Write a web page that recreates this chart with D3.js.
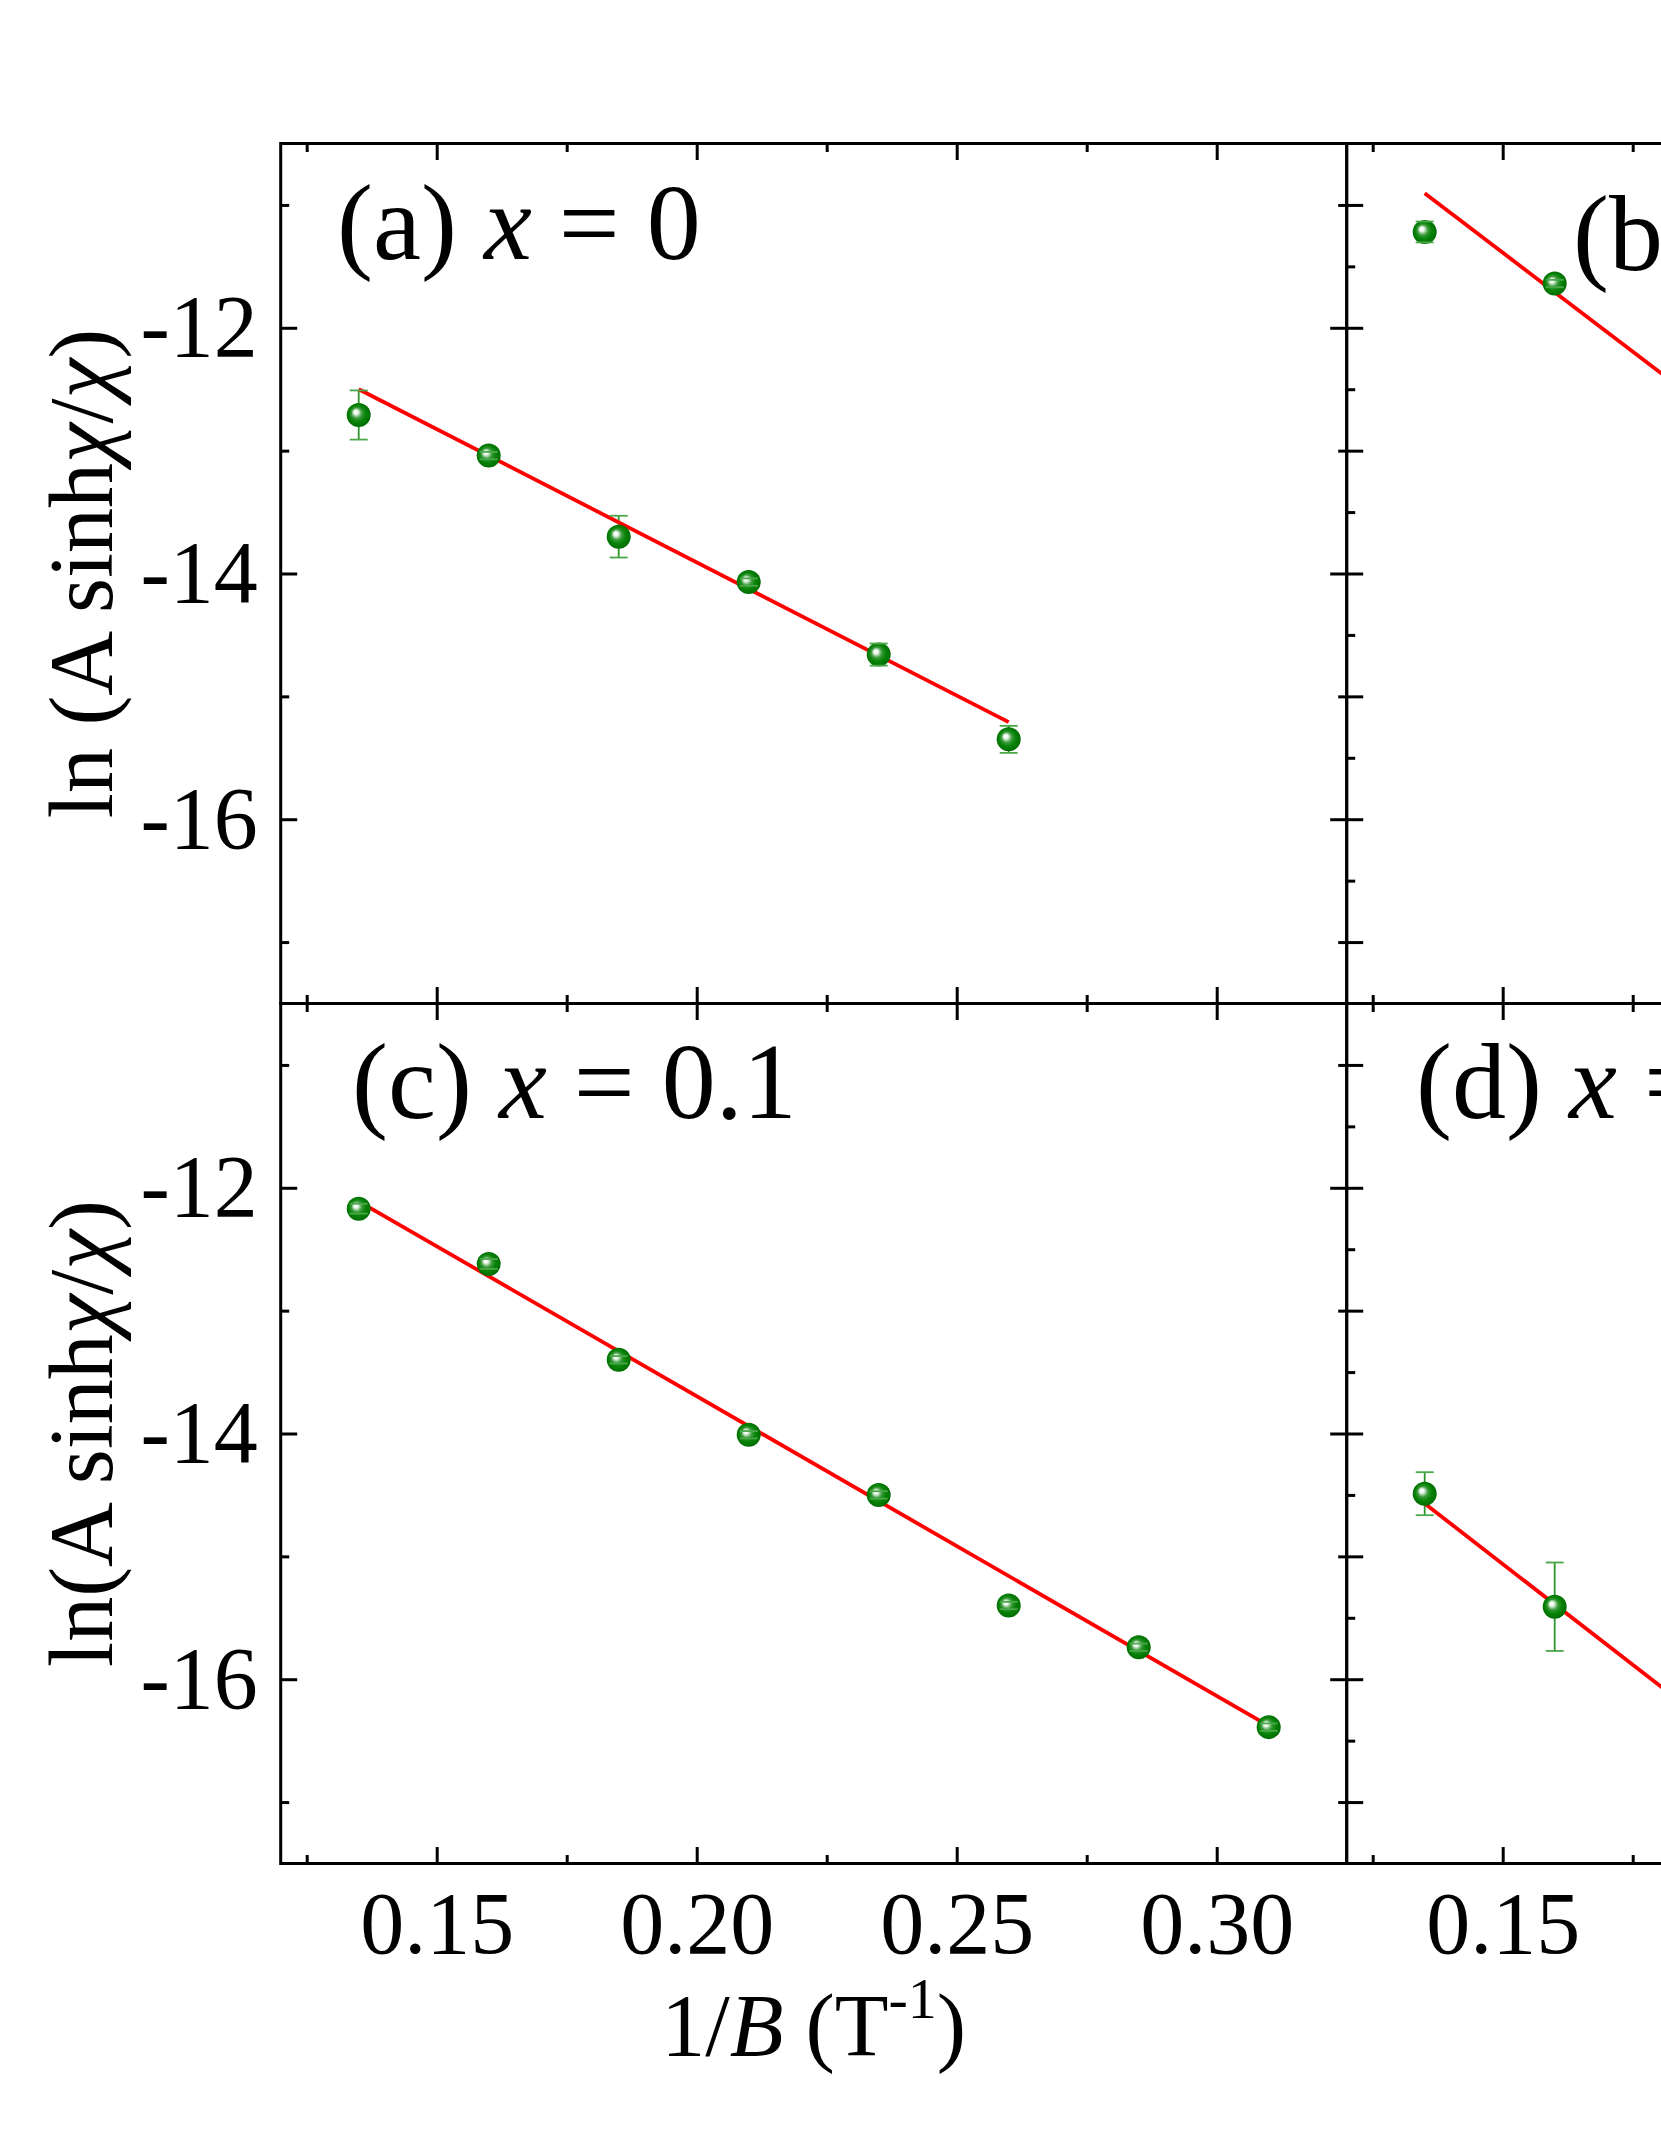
<!DOCTYPE html>
<html>
<head>
<meta charset="utf-8">
<script src="https://cdnjs.cloudflare.com/ajax/libs/d3/7.8.5/d3.min.js"></script>
<style>
  body { margin: 0; background: #fff; }
  svg { display: block; }
  text { font-family: "Liberation Serif", "Times New Roman", serif; fill: #000; }
</style>
</head>
<body>
<div id="chart"></div>
<script>
// shared axes
var xDomain = [0.12, 0.325];
var yDomain = [-17.5, -10.5];
var xMajor = [0.15, 0.20, 0.25, 0.30];
var xMinor = [0.125, 0.175, 0.225, 0.275];
var yMajorLeft = [-12, -14, -16];
var yMinorLeft = [-11, -13, -15, -17];
var yMajorRight = [-11, -12, -13, -14, -15, -16, -17];
var yMinorRight = [-11.5, -12.5, -13.5, -14.5, -15.5, -16.5];

// (a) x = 0
var xA = [0.135, 0.16, 0.185, 0.21, 0.235, 0.26];
var yA = [-12.71, -13.04, -13.70, -14.07, -14.66, -15.35];
var errA = [0.20, 0.03, 0.17, 0.03, 0.09, 0.11];
var fitA = [[0.135, -12.50], [0.26, -15.21]];

// (b) only the visible part of the panel
var xB = [0.135, 0.16];
var yB = [-11.22, -11.64];
var errB = [0.085, 0.03];
var fitB = [[0.135, -10.905], [0.185, -12.515]];

// (c) x = 0.1
var xC = [0.135, 0.16, 0.185, 0.21, 0.235, 0.26, 0.285, 0.31];
var yC = [-12.17, -12.62, -13.40, -14.01, -14.50, -15.40, -15.74, -16.39];
var errC = [0.04, 0.04, 0.03, 0.03, 0.03, 0.03, 0.03, 0.03];
var fitC = [[0.135, -12.11], [0.31, -16.38]];

// (d) only the visible part of the panel
var xD = [0.135, 0.16];
var yD = [-14.49, -15.41];
var errD = [0.175, 0.36];
var fitD = [[0.135, -14.57], [0.185, -16.21]];

var panels = [
  {name: "(a) ", comp: " = 0",    col: 0, row: 0, xs: xA, ys: yA, err: errA, fit: fitA},
  {name: "(b) ", comp: " = 0.05", col: 1, row: 0, xs: xB, ys: yB, err: errB, fit: fitB},
  {name: "(c) ", comp: " = 0.1",  col: 0, row: 1, xs: xC, ys: yC, err: errC, fit: fitC},
  {name: "(d) ", comp: " = 0.15", col: 1, row: 1, xs: xD, ys: yD, err: errD, fit: fitD}
];
var yTitles = ["ln (A sinh", "ln(A sinh"];

// layout
var W = 1661, H = 2149;
var colLeft = [280.7, 1346.7];
var rowTop = [143.5, 1003.5];
var pw = 1066, ph = 860;
var labelPos = [[337, 259], [1573, 270], [352, 1118], [1416, 1118]];

var svg = d3.select("#chart").append("svg")
    .attr("width", W)
    .attr("height", H);

svg.append("rect").attr("width", W).attr("height", H).attr("fill", "#fff");

var defs = svg.append("defs");
var grad = defs.append("radialGradient")
    .attr("id", "ball")
    .attr("cx", "50%").attr("cy", "50%").attr("r", "55%")
    .attr("fx", "36%").attr("fy", "36%");
[["0%", "#ffffff"], ["16%", "#eef7ee"], ["40%", "#3a9a3a"], ["62%", "#088408"], ["100%", "#006600"]]
  .forEach(function(s) {
    grad.append("stop").attr("offset", s[0]).attr("stop-color", s[1]);
  });

// hyphen instead of unicode minus, like the original
var plainFmt = function(d) { return String(d); };

panels.forEach(function(p, i) {
  var g = svg.append("g")
      .attr("transform", "translate(" + colLeft[p.col] + "," + rowTop[p.row] + ")");

  var x = d3.scaleLinear().domain(xDomain).range([0, pw]);
  var y = d3.scaleLinear().domain(yDomain).range([ph, 0]);

  var majL = p.col == 0 ? yMajorLeft : yMajorRight;
  var minL = p.col == 0 ? yMinorLeft : yMinorRight;

  // bottom
  g.append("g").attr("class", "axis").attr("transform", "translate(0," + ph + ")")
    .call(d3.axisBottom(x).tickValues(xMajor).tickSize(-16.5).tickSizeOuter(0).tickPadding(27)
      .tickFormat(p.row == 1 ? d3.format(".2f") : ""));
  g.append("g").attr("class", "axis").attr("transform", "translate(0," + ph + ")")
    .call(d3.axisBottom(x).tickValues(xMinor).tickSize(-8.5).tickSizeOuter(0).tickFormat(""));
  // top
  g.append("g").attr("class", "axis")
    .call(d3.axisTop(x).tickValues(xMajor).tickSize(-16.5).tickSizeOuter(0).tickFormat(""));
  g.append("g").attr("class", "axis")
    .call(d3.axisTop(x).tickValues(xMinor).tickSize(-8.5).tickSizeOuter(0).tickFormat(""));
  // left
  g.append("g").attr("class", "axis")
    .call(d3.axisLeft(y).tickValues(majL).tickSize(-16.5).tickSizeOuter(0).tickPadding(23)
      .tickFormat(p.col == 0 ? plainFmt : ""));
  g.append("g").attr("class", "axis")
    .call(d3.axisLeft(y).tickValues(minL).tickSize(-8.5).tickSizeOuter(0).tickFormat(""));
  // right
  g.append("g").attr("class", "axis").attr("transform", "translate(" + pw + ",0)")
    .call(d3.axisRight(y).tickValues(majL).tickSize(-16.5).tickSizeOuter(0).tickFormat(""));
  g.append("g").attr("class", "axis").attr("transform", "translate(" + pw + ",0)")
    .call(d3.axisRight(y).tickValues(minL).tickSize(-8.5).tickSizeOuter(0).tickFormat(""));

  g.selectAll(".axis .domain").remove();
  g.selectAll(".axis line").attr("stroke", "#000").attr("stroke-width", 3);
  g.selectAll(".axis text")
    .style("font-family", "'Liberation Serif', serif")
    .style("font-size", "88px")
    .attr("fill", "#000");

  g.append("rect")
    .attr("width", pw).attr("height", ph)
    .attr("fill", "none").attr("stroke", "#000").attr("stroke-width", 3);

  var pts = p.xs.map(function(v, k) { return {x: v, y: p.ys[k], e: p.err[k]}; });

  // error bars
  g.selectAll(".eb").data(pts).enter().append("line")
    .attr("x1", function(d) { return x(d.x); })
    .attr("x2", function(d) { return x(d.x); })
    .attr("y1", function(d) { return y(d.y - d.e); })
    .attr("y2", function(d) { return y(d.y + d.e); })
    .attr("stroke", "#2f952f").attr("stroke-width", 1.8);

  // fit
  g.append("path")
    .datum(p.fit)
    .attr("d", d3.line().x(function(d) { return x(d[0]); }).y(function(d) { return y(d[1]); }))
    .attr("fill", "none").attr("stroke", "#ff0000").attr("stroke-width", 3.8);

  g.selectAll(".pt").data(pts).enter().append("circle")
    .attr("cx", function(d) { return x(d.x); })
    .attr("cy", function(d) { return y(d.y); })
    .attr("r", 12)
    .attr("fill", "url(#ball)");

  // caps
  [-1, 1].forEach(function(s) {
    g.selectAll(".cap").data(pts).enter().append("line")
      .attr("x1", function(d) { return x(d.x) - 9; })
      .attr("x2", function(d) { return x(d.x) + 9; })
      .attr("y1", function(d) { return y(d.y + s * d.e); })
      .attr("y2", function(d) { return y(d.y + s * d.e); })
      .attr("stroke", "#4aa84a").attr("stroke-width", 1.8);
  });

  var lab = svg.append("text")
    .attr("x", labelPos[i][0]).attr("y", labelPos[i][1])
    .style("font-size", "108px");
  lab.append("tspan").text(p.name);
  lab.append("tspan").style("font-style", "italic").text("x");
  lab.append("tspan").text(p.comp);
});

// y titles
yTitles.forEach(function(t, r) {
  var cy = rowTop[r] + ph / 2;
  var tt = svg.append("text")
    .attr("transform", "translate(112," + cy + ") rotate(-90)")
    .attr("text-anchor", "middle")
    .style("font-size", "90px");
  tt.append("tspan").text(t);
  tt.append("tspan").style("font-style", "italic").text("\u03c7");
  tt.append("tspan").text("/");
  tt.append("tspan").style("font-style", "italic").text("\u03c7");
  tt.append("tspan").text(")");
});

// x title
var xt = svg.append("text")
  .attr("x", colLeft[0] + pw / 2).attr("y", 2055)
  .attr("text-anchor", "middle")
  .style("font-size", "88px");
xt.append("tspan").text("1/");
xt.append("tspan").style("font-style", "italic").text("B");
xt.append("tspan").text(" (T");
xt.append("tspan").attr("dy", -37).style("font-size", "58px").text("-1");
xt.append("tspan").attr("dy", 37).text(")");
</script>
</body>
</html>
